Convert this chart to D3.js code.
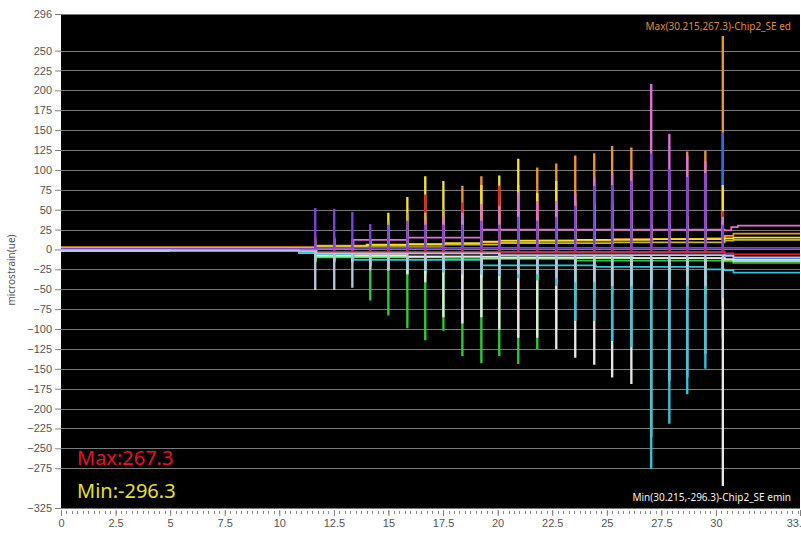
<!DOCTYPE html>
<html>
<head>
<meta charset="utf-8">
<script src="https://cdn.jsdelivr.net/npm/d3@7"></script>
<style>
  body { margin: 0; background: #fff; }
  svg { display: block; font-family: "Noto Sans", "DejaVu Sans", sans-serif; }
</style>
</head>
<body>
<script>
// Define SVG dimensions
let svgWidth = 801;
let svgHeight = 536;
let margin = { top: 14, right: 1, bottom: 28, left: 61 };
let chartWidth = svgWidth - margin.left - margin.right;
let chartHeight = svgHeight - margin.top - margin.bottom;

// Axis values
let xEnd = 33.85;
let xTickValues = [0, 2.5, 5, 7.5, 10, 12.5, 15, 17.5, 20, 22.5, 25, 27.5, 30, 33.85];
let xTickLabels = ["0", "2.5", "5", "7.5", "10", "12.5", "15", "17.5", "20", "22.5", "25", "27.5", "30", "33.85"];
let yMin = -325;
let yMax = 296;
let yTickValues = [296, 250, 225, 200, 175, 150, 125, 100, 75, 50, 25, 0, -25, -50, -75, -100,
                   -125, -150, -175, -200, -225, -250, -275, -325];

// Times of the load pulses (s)
let spikeTimes = [11.63, 12.50, 13.33, 14.15, 14.98, 15.85, 16.67, 17.50, 18.37, 19.24, 20.06, 20.93,
                  21.80, 22.67, 23.54, 24.41, 25.23, 26.11, 27.02, 27.85, 28.67, 29.50, 30.30];

// Series: baseline levels [time, value] and pulse peaks (one per pulse)
let orangeBase = [[0, 3], [10.9, 3], [11.7, 5], [15.9, 7], [18.4, 9], [21.9, 11], [25.3, 13], [28.7, 14], [30.4, 17], [30.8, 20]];
let orangePeaks = [15, 15, 12, 12, 20, 25, 40, 40, 79, 91, 70, 80, 102, 107, 117, 120, 129, 127, 100, 90, 122, 123, 267.3];

let blueBase = [[0, -1], [10.9, -1], [11.7, -3], [20.1, -4], [30.4, -6], [30.8, -11]];
let bluePeaks = [5, 6, 8, 8, 10, 10, 12, 12, 15, 15, 15, 18, 20, 20, 50, 55, 55, 50, 30, 30, 25, 25, 146];

let yellowBase = [[0, 2], [10.9, 2], [11.7, 4], [14.0, 6], [16.7, 8], [18.4, 10], [20.1, 11], [23.6, 12], [27.1, 13], [30.4, 14], [30.8, 15]];
let yellowPeaks = [10, 12, 10, 10, 45, 65, 91, 85, 50, 80, 92, 113, 70, 85, 60, 55, 60, 60, 30, 30, 40, 40, 80];

let redBase = [[0, 0], [10.9, -1], [11.7, -3], [30.4, -5], [30.8, -6]];
let redPeaks = [8, 8, 10, 10, 15, 20, 68, 30, 58, 40, 79, 66, 58, 40, 30, 35, 30, 30, 25, 25, 25, 25, 47];

let oliveBase = [[0, 1], [10.9, 1], [11.7, 3], [16.7, 6], [20.1, 8], [25.3, 9], [30.4, 11], [30.8, 12]];
let olivePeaks = [8, 8, 8, 8, 35, 45, 45, 50, 35, 40, 45, 50, 40, 40, 35, 35, 35, 35, 25, 25, 30, 30, 35];

let pinkBase = [[0, 0], [10.9, 0], [11.7, 1], [13.4, 12], [15.0, 15], [18.4, 23], [19.3, 25], [30.4, 24], [30.7, 28], [31.0, 30]];
let pinkPeaks = [5, 5, 5, 10, 15, 20, 35, 40, 45, 56, 54, 71, 60, 60, 70, 90, 95, 100, 207, 144, 117, 110, 40];

let purpleBase = [[0, 1], [10.9, 1], [11.7, 2], [30.4, 2]];
let purplePeaks = [51, 50, 46, 31, 30, 35, 30, 30, 30, 35, 30, 40, 35, 40, 54, 79, 80, 85, 120, 100, 90, 95, 30];

let greenBase = [[0, -2], [10.9, -4], [11.7, -10], [16.7, -12], [22.7, -14], [30.4, -15], [30.8, -17]];
let greenPeaks = [-15, -15, -15, -63, -82, -98, -113, -101, -133, -142, -133, -143, -124, -100, -65, -60, -55, -55, -45, -45, -60, -55, -110];

let lightGreenBase = [[0, -2], [10.9, -4], [11.7, -9], [18.4, -11], [30.4, -13], [30.8, -15]];
let lightGreenPeaks = [-12, -12, -12, -20, -25, -30, -30, -30, -35, -35, -35, -35, -35, -40, -50, -50, -45, -45, -40, -40, -45, -45, -70];

let whiteBase = [[0, -1], [5, -2], [10.9, -4], [11.7, -7], [15.0, -9], [20.1, -10], [26.2, -11], [30.4, -12], [30.8, -13]];
let whitePeaks = [-15, -15, -15, -20, -25, -30, -40, -84, -92, -84, -100, -110, -110, -124, -135, -144, -160, -168, -235, -164, -160, -130, -296.3];

let cyanBase = [[0, -1], [5, -2], [10.9, -4], [11.7, -6], [13.4, -13], [18.4, -20], [24.5, -22], [28.7, -25], [30.4, -26], [30.8, -29]];
let cyanPeaks = [-10, -10, -10, -20, -22, -24, -26, -28, -30, -30, -32, -35, -38, -45, -89, -89, -114, -122, -275, -218, -181, -149, -60];

let greyBase = [[0, -1], [10.9, -2], [11.7, -5], [20.1, -7], [30.4, -8], [30.8, -10]];
let greyPeaks = [-50, -50, -47, -25, -25, -25, -25, -25, -30, -30, -30, -30, -30, -35, -40, -40, -45, -45, -50, -50, -45, -45, -60];

// drawing order matters: later series sit on top
let series = [
  { name: "Chip2_SE ed", color: "#f0952a", base: orangeBase, peaks: orangePeaks },
  { name: "blue", color: "#2c6ce8", base: blueBase, peaks: bluePeaks },
  { name: "yellow", color: "#f4e428", base: yellowBase, peaks: yellowPeaks },
  { name: "red", color: "#e8202c", base: redBase, peaks: redPeaks },
  { name: "olive", color: "#c8b83a", base: oliveBase, peaks: olivePeaks },
  { name: "pink", color: "#e070dc", base: pinkBase, peaks: pinkPeaks },
  { name: "purple", color: "#7c44dc", base: purpleBase, peaks: purplePeaks },
  { name: "green", color: "#2ecc3a", base: greenBase, peaks: greenPeaks },
  { name: "lightgreen", color: "#8cf08c", base: lightGreenBase, peaks: lightGreenPeaks },
  { name: "Chip2_SE emin", color: "#e6e6e6", base: whiteBase, peaks: whitePeaks },
  { name: "cyan", color: "#34c6d6", base: cyanBase, peaks: cyanPeaks },
  { name: "grey", color: "#b2c6dc", base: greyBase, peaks: greyPeaks }
];

// Create SVG wrapper & chart holder
let svg = d3.select("body")
            .append("svg")
            .attr("width", svgWidth)
            .attr("height", svgHeight);

let xScale = d3.scaleLinear().domain([0, xEnd]).range([0, chartWidth]);
let yScale = d3.scaleLinear().domain([yMin, yMax]).range([chartHeight, 0]);

let chartGroup = svg.append("g")
                    .attr("transform", `translate(${margin.left}, ${margin.top})`);

// black plot area
chartGroup.append("rect")
          .attr("width", chartWidth)
          .attr("height", chartHeight)
          .attr("fill", "#000");

// horizontal grid lines
chartGroup.append("g")
          .selectAll("line")
          .data(yTickValues)
          .enter()
          .append("line")
          .attr("x1", 0)
          .attr("x2", chartWidth)
          .attr("y1", d => Math.round(yScale(d)) + 0.5)
          .attr("y2", d => Math.round(yScale(d)) + 0.5)
          .attr("stroke", "#7a7a7a")
          .attr("stroke-width", 1);

// y axis
let yAxis = d3.axisLeft(yScale).tickValues(yTickValues).tickSize(6).tickPadding(3).tickFormat(d3.format("d"));
let yAxisG = chartGroup.append("g").call(yAxis);
yAxisG.select(".domain").remove();
yAxisG.selectAll("line").attr("stroke", "#808080");
yAxisG.selectAll("text").attr("fill", "#555").style("font-size", "11px");

// x axis: major and minor ticks
let xAxisG = chartGroup.append("g").attr("transform", `translate(0, ${chartHeight + 1})`);
let minorTicks = d3.range(0, 33.76, 0.25);
xAxisG.selectAll("line.minor")
      .data(minorTicks)
      .enter()
      .append("line")
      .attr("class", "minor")
      .attr("x1", d => Math.round(xScale(d)) + 0.5)
      .attr("x2", d => Math.round(xScale(d)) + 0.5)
      .attr("y1", 2)
      .attr("y2", 5)
      .attr("stroke", "#8a8a8a");
let xAxis = d3.axisBottom(xScale).tickValues(xTickValues).tickSize(7).tickPadding(3)
              .tickFormat((d, i) => xTickLabels[i]);
xAxisG.call(xAxis);
xAxisG.select(".domain").remove();
xAxisG.selectAll(".tick line").attr("stroke", "#808080").attr("y1", 1);
xAxisG.selectAll("text").attr("fill", "#555").style("font-size", "11px");

// y axis title
svg.append("text")
   .attr("transform", `translate(15, 270) rotate(-90)`)
   .attr("text-anchor", "middle")
   .attr("fill", "#555")
   .style("font-size", "10px")
   .text("microstrain(ue)");

// data lines
chartGroup.append("clipPath").attr("id", "plotClip")
          .append("rect").attr("width", chartWidth).attr("height", chartHeight);

// level of the baseline that holds at time t
function levelAt(base, t) {
  let v = base[0][1];
  base.forEach(k => { if (k[0] <= t) v = k[1]; });
  return v;
}

function seriesPoints(s) {
  let pts = s.base.map(k => ({ t: k[0], v: k[1] }));
  spikeTimes.forEach((t, i) => {
    let lvl = levelAt(s.base, t);
    pts.push({ t: t, v: lvl }, { t: t, v: s.peaks[i] }, { t: t + 0.03, v: lvl });
  });
  pts.push({ t: xEnd, v: s.base[s.base.length - 1][1] });
  return pts.sort((a, b) => a.t - b.t);
}

let line = d3.line()
             .x(d => xScale(d.t))
             .y(d => yScale(d.v))
             .curve(d3.curveStepAfter);

chartGroup.append("g")
          .attr("clip-path", "url(#plotClip)")
          .selectAll("path")
          .data(series)
          .enter()
          .append("path")
          .attr("d", d => line(seriesPoints(d)))
          .attr("fill", "none")
          .attr("stroke", d => d.color)
          .attr("stroke-width", 1.7);

// annotations
chartGroup.append("text")
          .attr("x", chartWidth - 9)
          .attr("y", 16)
          .attr("text-anchor", "end")
          .attr("fill", "#e08c30")
          .style("font-size", "10px")
          .text("Max(30.215,267.3)-Chip2_SE ed");

chartGroup.append("text")
          .attr("x", chartWidth - 9)
          .attr("y", 487)
          .attr("text-anchor", "end")
          .attr("fill", "#f2f2f2")
          .style("font-size", "10px")
          .text("Min(30.215,-296.3)-Chip2_SE emin");

chartGroup.append("text")
          .attr("x", 16)
          .attr("y", 451)
          .attr("fill", "#e4122a")
          .style("font-size", "20px")
          .text("Max:267.3");

chartGroup.append("text")
          .attr("x", 16)
          .attr("y", 484)
          .attr("fill", "#e4e02a")
          .style("font-size", "20px")
          .text("Min:-296.3");
</script>
</body>
</html>
